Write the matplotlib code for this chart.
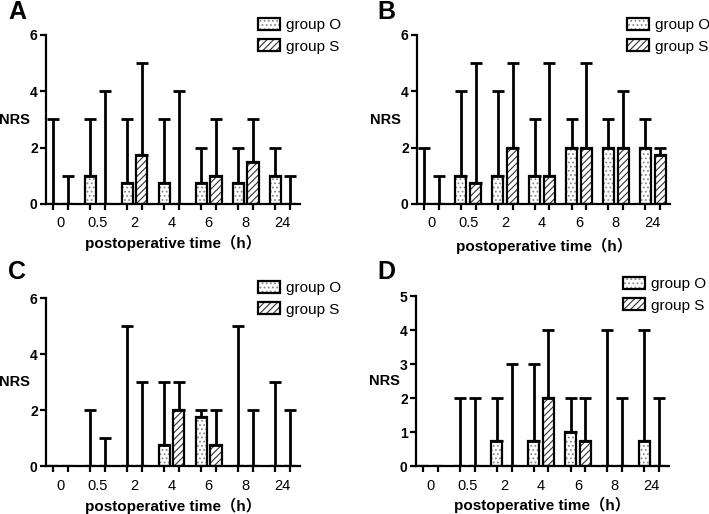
import numpy as np
import matplotlib
matplotlib.use("Agg")
import matplotlib.pyplot as plt
from matplotlib.patches import Patch

plt.rcParams['font.family'] = ['Liberation Sans', 'Noto Sans CJK SC', 'DejaVu Sans']
plt.rcParams['hatch.linewidth'] = 0.8

times = ["0", "0.5", "2", "4", "6", "8", "24"]

# median NRS and upper range, group O / group S
a_o = [0, 1, 0.75, 0.75, 0.75, 0.75, 1]
a_o_max = [3, 3, 3, 3, 2, 2, 2]
a_s = [0, 0, 1.75, 0, 1, 1.5, 0]
a_s_max = [1, 4, 5, 4, 3, 3, 1]

b_o = [0, 1, 1, 1, 2, 2, 2]
b_o_max = [2, 4, 4, 3, 3, 3, 3]
b_s = [0, 0.75, 2, 1, 2, 2, 1.75]
b_s_max = [1, 5, 5, 5, 5, 4, 2]

c_o = [0, 0, 0, 0.75, 1.75, 0, 0]
c_o_max = [0, 2, 5, 3, 2, 5, 3]
c_s = [0, 0, 0, 2, 0.75, 0, 0]
c_s_max = [0, 1, 3, 3, 2, 2, 2]

d_o = [0, 0, 0.75, 0.75, 1, 0, 0.75]
d_o_max = [0, 2, 2, 3, 2, 4, 4]
d_s = [0, 0, 0, 2, 0.75, 0, 0]
d_s_max = [0, 2, 3, 4, 2, 2, 2]

panels = [
    ("A", a_o, a_o_max, a_s, a_s_max, 6, [0, 2, 4, 6]),
    ("B", b_o, b_o_max, b_s, b_s_max, 6, [0, 2, 4, 6]),
    ("C", c_o, c_o_max, c_s, c_s_max, 6, [0, 2, 4, 6]),
    ("D", d_o, d_o_max, d_s, d_s_max, 5, [0, 1, 2, 3, 4, 5]),
]

W, H = 709, 514
fig = plt.figure(figsize=(W / 100, H / 100), dpi=100)

# axes boxes in pixels: left, top, right, bottom
boxes = [(46, 35, 300, 204), (417, 35, 670, 204),
         (46, 298, 300, 466), (416, 296, 669, 466)]
letter_pos = [(8, 12), (377, 12), (8, 272), (377, 272)]
legend_pos = [(258, 18), (627, 18), (258, 281), (623, 277)]
xlabel_gap = [39, 42, 40, 39]

x = np.arange(len(times))
off = 0.2
bw = 0.3
lw = 1.6

for (name, o, o_max, s, s_max, ymax, yt), box, lp, lg, gap in zip(panels, boxes, letter_pos, legend_pos, xlabel_gap):
    l, t, r, b = box
    ax = fig.add_axes([l / W, 1 - b / H, (r - l) / W, (b - t) / H])
    o = np.array(o); s = np.array(s)
    o_max = np.array(o_max); s_max = np.array(s_max)

    ax.bar(x - off, o, bw, color="white", edgecolor="#8a8a8a", hatch="....", linewidth=0, zorder=2)
    ax.bar(x - off, o, bw, fill=False, edgecolor="black", linewidth=lw, zorder=3)
    ax.bar(x + off, s, bw, color="white", edgecolor="#333333", hatch="/////", linewidth=0, zorder=2)
    ax.bar(x + off, s, bw, fill=False, edgecolor="black", linewidth=lw, zorder=3)

    ax.errorbar(x - off, o, yerr=[np.zeros_like(o), o_max - o], fmt="none", ecolor="black",
                elinewidth=2, capsize=4, capthick=2, zorder=4)
    ax.errorbar(x + off, s, yerr=[np.zeros_like(s), s_max - s], fmt="none", ecolor="black",
                elinewidth=2, capsize=4, capthick=2, zorder=4)

    ax.set_xlim(-0.39, 6.47)
    ax.set_ylim(0, ymax)
    ax.spines["top"].set_visible(False)
    ax.spines["right"].set_visible(False)
    ax.spines["left"].set_linewidth(1.6)
    ax.spines["bottom"].set_linewidth(1.6)

    ax.set_yticks(yt)
    ax.set_yticklabels([str(v) for v in yt], fontweight="bold", fontsize=10)
    ax.tick_params(axis="y", length=4, width=1.6, pad=2)

    ax.set_xticks(np.concatenate([x - off, x + off]))
    ax.set_xticklabels([])
    ax.tick_params(axis="x", which="major", length=4, width=1.6)
    ax.set_xticks(x, minor=True)
    ax.set_xticklabels(times, minor=True, fontsize=10.5)
    ax.tick_params(axis="x", which="minor", length=0, pad=9)

    ax.set_xlabel("postoperative time（h）", fontweight="bold", fontsize=11, va="center")
    ax.xaxis.set_label_coords(0.5, -gap / (b - t))
    ax.set_ylabel("NRS", fontweight="bold", fontsize=10.5, rotation=0, va="center", ha="center")
    ax.yaxis.set_label_coords(-32 / (r - l), 0.5)

    fig.text(lp[0] / W, 1 - lp[1] / H, name, fontsize=18, fontweight="bold", va="center", ha="left")

    h_o = (Patch(facecolor="white", edgecolor="#8a8a8a", hatch="....", linewidth=0),
           Patch(fill=False, edgecolor="black", linewidth=lw))
    h_s = (Patch(facecolor="white", edgecolor="#333333", hatch="/////", linewidth=0),
           Patch(fill=False, edgecolor="black", linewidth=lw))
    ax.legend([h_o, h_s], ["group O", "group S"], loc="upper left",
              bbox_to_anchor=(lg[0] / W, 1 - lg[1] / H), bbox_transform=fig.transFigure,
              frameon=False, fontsize=11, handlelength=1.45, handleheight=0.85,
              handletextpad=0.4, labelspacing=0.45, borderpad=0, borderaxespad=0)

fig.savefig("out.png", dpi=100)
